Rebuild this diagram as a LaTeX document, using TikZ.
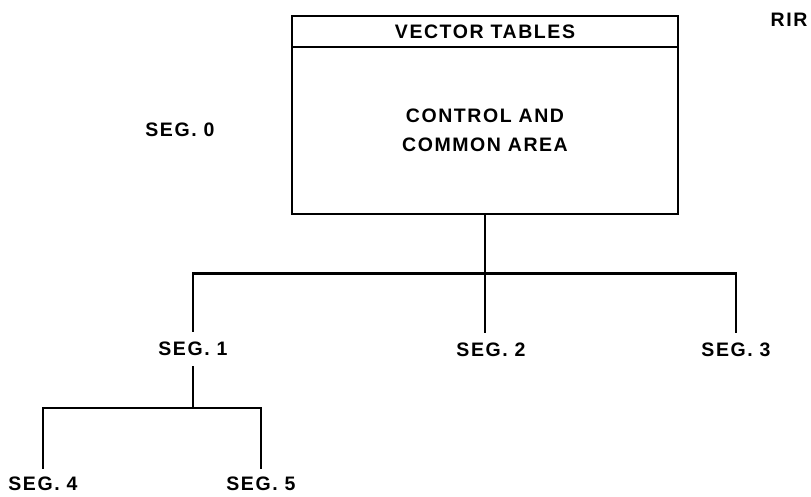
\documentclass[tikz,border=0pt]{standalone}
\usepackage{fontspec}
\setmainfont[LetterSpace=8]{Liberation Sans}
\usepackage{tikz}
\usetikzlibrary{positioning, calc}

\begin{document}
\begin{tikzpicture}[x=1pt, y=-1pt,
        every node/.style={font=\fontsize{19.5}{29}\selectfont\bfseries},
        head/.style={rectangle, draw, line width=2.8pt, minimum width=386pt, minimum height=31pt, inner sep=0pt},
        body/.style={rectangle, draw, line width=2.8pt, minimum width=386pt, minimum height=167pt, align=center},
        seg/.style={inner xsep=6pt, inner ysep=10pt},
        link/.style={line width=2.8pt}
      ]
      \useasboundingbox (0,0) rectangle (811,497);
      \node[head] (vt) at (485,31.5) {VECTOR TABLES};
      \node[body, below=-2.8pt of vt] (ca) {CONTROL AND\\COMMON AREA};
      \node[seg] (s0) at (180,130) {SEG. 0};
      \node[seg] (rir) at (789,20) {RIR};
      \node[seg] (s1) at (193,349) {SEG. 1};
      \node[seg] (s2) at (491,350) {SEG. 2};
      \node[seg] (s3) at (736,350) {SEG. 3};
      \node[seg, inner ysep=8pt] (s4) at (43,484) {SEG. 4};
      \node[seg, inner ysep=8pt] (s5) at (261,484) {SEG. 5};
      \coordinate (j0) at ($(ca.south)+(0,58)$);
      \coordinate (j1) at ($(s1.center)+(0,59)$);
      \draw[link] (ca.south) -- (ca.south |- s2.north);
      \draw[link] (s1.north) |- (j0) -| (s3.north);
      \draw[link] (s1.south) -- (j1);
      \draw[link] (s4.north) |- (j1) -| (s5.north);
    \end{tikzpicture}
\end{document}
